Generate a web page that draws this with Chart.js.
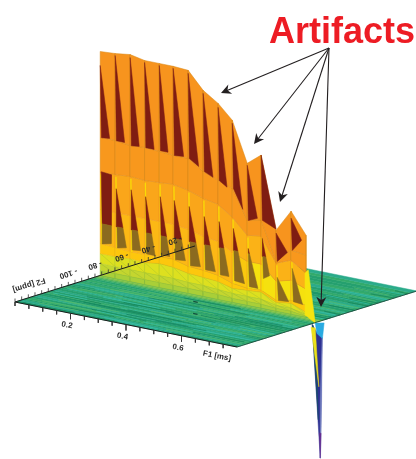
<!DOCTYPE html>
<html>
<head>
<meta charset="utf-8">
<style>
html, body { margin: 0; padding: 0; background: #fff; }
canvas { display: block; }
</style>
<script src="https://cdn.jsdelivr.net/npm/chart.js@4"></script>
</head>
<body>
<canvas id="surface" width="416" height="459"></canvas>
<script>
// wall columns, one per F1 increment
const f1Cols = [0, 0.054, 0.108, 0.16, 0.213, 0.263, 0.317, 0.371, 0.425, 0.476, 0.53, 0.58, 0.634, 0.688, 0.742];
// intensity along each contour of the wall
const zTop = [224, 225, 227, 224, 224, 224, 223, 206, 196, 182, 142, 153, 81, 103, 82];
const zBand1 = [138, 138, 136, 137, 136, 135, 135, 125, 119, 114, 85, 88, 50, 64, 62];
const zBand2 = [103, 104, 105, 104, 105, 106, 103, 98, 95, 85, 70, 72, 48, 54, 44];
const zBandMid = [66, 66, 66, 66, 66, 66, 64, 60, 58, 50, 44, 44, 30, 34, 28];
const zGoldTop = [32, 31, 30, 30, 31, 31, 27, 26, 24, 19, 17, 18, 11, 14, 12];
const zGoldLow = [22, 22, 23, 22, 24, 23, 20, 19, 18, 14, 15, 16, 9, 11, 5];
const zLimeA = [12, 12, 12, 12, 12, 12, 11, 11, 10, 9, 9, 9, 6, 6, 3];
const zLimeB = [5, 5, 5, 5, 5, 5, 5, 5, 5, 4, 4, 4, 3, 3, 1];
const zFoot = [0, 0, 0, 0, 0, 0, 0, 0, 0, 0, 0, 0, 0, 0, 0];

// dark folds, upper tier
const redApex = [210, 223, 224, 222, 222, 222, 220, 203, 192, 179, 140, 153, 78, 96];
const redLeft = [138, 138, 136, 137, 137, 135, 135, 125, 119, 114, 85, 88, 50, 64];
const redRight = [139, 138, 137, 137, 137, 136, 129, 121, 114, 95, 89, 82, 61, 76];
const redWidth = [0.63, 0.63, 0.63, 0.65, 0.63, 0.7, 0.7, 0.66, 0.63, 0.7, 0.73, 1, 0.75, 0.7];
// dark folds, lower tier
const foldApex = [104, 90, 92, 88, 91, 90, 87, 80, 78, 74, 57, 70, 34, 46];
const foldLeft = [32, 31, 32, 31, 33, 31, 28, 27, 25, 22, 19, 30, 11, 13];
const foldRight = [34, 33, 33, 31, 33, 32, 29, 27, 25, 21, 19, 34, 12, 12];
const foldWidth = [0.73, 0.75, 0.73, 0.72, 0.75, 0.82, 0.82, 0.82, 0.77, 0.82, 0.77, 0.56, 0.84, 0.77];

// negative peak at the end of the wall
const spikeCyanF1 = [0.775, 0.807, 0.801, 0.781];
const spikeCyanZ = [-4, -2, -18, -14];
const spikeNavyF1 = [0.764, 0.793, 0.8, 0.781];
const spikeNavyZ = [-6, -138, -17, -13];
const spikePaleF1 = [0.8, 0.798, 0.794, 0.793];
const spikePaleZ = [-17, -80, -138, -80];
const spikeYellowF1 = [0.76, 0.775, 0.788];
const spikeYellowZ = [-9, -9, -67];
const spikeTealF1 = [0.764, 0.768, 0.782, 0.786];
const spikeTealZ = [-6, -7, -68, -100];
const spikeTipF1 = [0.79, 0.796, 0.793];
const spikeTipZ = [-113, -113, -138];
const tailF1 = [0.738, 0.75, 0.775, 0.738];
const tailZ = [44, 48, -4, 2];

// floor
const floorRows = [-135, -132, -129, -127, -124, -121, -118, -116, -113, -110, -107, -105, -102, -99, -96, -94, -91, -88, -85, -83, -80, -78, -76, -74, -72.5, -71, -68, -65, -62, -58, -55, -52, -48, -45, -42, -38, -35, -31, -28, -24, -20, -16, -12, -8, -4, 0];
const floorTones = [1, 3, 0, 2, 0, 3, 0, 1, 2, 0, 3, 0, 0, 2, 1, 0, 3, 2, 0, 2, 0, 2, 4, 5, 6, 2, 0, 1, 3, 0, 2, 0, 0, 2, 3, 0, 1, 2, 0, 3, 2, 0, 0, 2, 3];
const streakF2 = [-133.5, -131, -130, -128, -126, -125, -123, -122, -120, -119, -117, -115, -114, -112, -111, -109, -108, -106, -104, -103.5, -101, -100, -98, -97, -95, -93.5, -92, -90, -89, -87, -86, -84, -82, -81, -79,
    -133, -129.5, -126.5, -124, -121, -118.5, -115.5, -113, -110.5, -107.5, -105, -102, -99.5, -96.5, -94, -91, -88.5,
    -69, -66, -63, -60, -57, -54, -51, -47, -44, -41, -37, -33, -30, -26, -22, -18, -14, -10, -6];
const streakFrom = [0.02, 0.3, 0.52, 0.1, 0.42, 0.05, 0.22, 0.58, 0.33, 0.08, 0.48, 0.15, 0.62, 0.27, 0.04, 0.5, 0.36, 0.12, 0.66, 0.24, 0.44, 0.02, 0.56, 0.18, 0.34, 0.64, 0.08, 0.46, 0.26, 0.6, 0.14, 0.38, 0.52, 0.22, 0.34,
    0.36, 0.06, 0.6, 0.24, 0.44, 0.1, 0.56, 0.3, 0.02, 0.68, 0.4, 0.16, 0.5, 0.05, 0.28, 0.58, 0.12,
    0.72, 0.64, 0.7, 0.6, 0.74, 0.66, 0.62, 0.71, 0.6, 0.68, 0.73, 0.63, 0.7, 0.66, 0.61, 0.72, 0.64, 0.69, 0.75];
const streakTo = [0.2, 0.5, 0.8, 0.32, 0.7, 0.26, 0.42, 0.79, 0.55, 0.24, 0.74, 0.4, 0.8, 0.5, 0.2, 0.78, 0.58, 0.3, 0.8, 0.42, 0.7, 0.22, 0.79, 0.4, 0.52, 0.8, 0.28, 0.66, 0.44, 0.8, 0.36, 0.6, 0.74, 0.44, 0.54,
    0.56, 0.2, 0.78, 0.4, 0.62, 0.3, 0.72, 0.5, 0.14, 0.8, 0.58, 0.36, 0.68, 0.2, 0.46, 0.75, 0.3,
    0.8, 0.8, 0.78, 0.79, 0.8, 0.8, 0.76, 0.8, 0.78, 0.8, 0.8, 0.79, 0.8, 0.78, 0.8, 0.8, 0.77, 0.8, 0.8];
const streakDrift = [1, -1, 0.5, 1, -0.5, 0.5, -1, 1, 0.5, -1, 1, -0.5, 0.5, 1, -1, 0.5, -0.5, 1, -1, 0.5, 1, -0.5, 0.5, -1, 1, 0.5, -1, 0.5, 1, -0.5, 1, -1, 0.5, -0.5, 1,
    -1, 0.5, 1, -1, 0.5, -0.5, 1, -1, 0.5, 1, -0.5, 0.5, -1, 1, -0.5, 0.5, 1,
    1, -1, 0.5, 1, -0.5, 1, -1, 0.5, 1, -1, 0.5, -0.5, 1, -1, 0.5, 1, -0.5, 1, -1];
const streakKind = [0, 1, 2, 0, 1, 2, 0, 1, 0, 2, 1, 0, 2, 1, 0, 1, 2, 0, 1, 0, 2, 1, 0, 1, 2, 0, 1, 2, 0, 1, 2, 0, 1, 2, 0,
    1, 2, 0, 1, 0, 2, 1, 0, 1, 2, 0, 1, 0, 2, 1, 0, 2,
    1, 0, 2, 1, 0, 1, 2, 0, 1, 2, 0, 1, 0, 2, 1, 0, 2, 1, 0];
const markF1 = [0.385, 0.469];
const markF2 = [-81.4, -99];

// axes
const f1Ticks = [0, 0.05, 0.1, 0.15, 0.2, 0.25, 0.3, 0.35, 0.4, 0.45, 0.5, 0.55, 0.6, 0.65, 0.7, 0.75];
const f1Labels = ["0.2", "0.4", "0.6"];
const f1LabelValues = [0.2, 0.4, 0.6];
const f2Ticks = [-135, -130, -125, -120, -115, -110, -105, -100, -95, -90, -85, -80, -75, -70, -65, -60, -55, -50, -45, -40, -35, -30, -25, -20, -15, -10, -5];
const f2Labels = ["- 100", "- 80", "- 60", "- 40", "- 20"];
const f2LabelValues = [-100, -80, -60, -40, -20];

// arrows from the word down to the artifacts
const arrowFrom = { x: 329, y: 48 };
const arrowTipX = [221, 254, 280, 321];
const arrowTipY = [93, 144, 202, 307];

const WALL_F2 = -71.1;
const F1_MAX = 0.8;
const F2_MIN = -135;
const BROWN_LEVEL = 52;

// oblique view of the box
function view(f1, f2, z) {
    return {
        x: 15 + f1 * 277.5 + (f2 - F2_MIN) * 1.333,
        y: 302 + f1 * 56.25 - (f2 - F2_MIN) * 0.415 - z,
    };
}

// position on the wall, c is a column number with a fraction
function wall(c, z) {
    let i = Math.min(Math.floor(c), f1Cols.length - 2);
    let f1 = f1Cols[i] + (c - i) * (f1Cols[i + 1] - f1Cols[i]);
    return view(f1, WALL_F2, z);
}

const datasets = [];

function shape(points, color, edge, edgeWidth) {
    datasets.push({
        data: points.concat([points[0]]),
        showLine: true,
        fill: "shape",
        backgroundColor: color,
        borderColor: edge || color,
        borderWidth: edgeWidth === undefined ? 0.5 : edgeWidth,
        pointRadius: 0,
        tension: 0,
    });
}

function line(points, color, width) {
    datasets.push({
        data: points,
        showLine: true,
        fill: false,
        borderColor: color,
        borderWidth: width,
        pointRadius: 0,
        tension: 0,
    });
}

function cell(i, zUp, zDown, color, edge) {
    shape([wall(i, zUp[i]), wall(i + 1, zUp[i + 1]), wall(i + 1, zDown[i + 1]), wall(i, zDown[i])], color, edge);
}

function spikePart(xs, zs, color) {
    shape(xs.map((f, i) => view(f, WALL_F2, zs[i])), color);
}

// floor
const floorColors = ["#25a06f", "#1d9769", "#33aa6b", "#2bab8a", "#4fb25c", "#6fbc4c", "#8cc63f"];
const streakColors = ["#12825a", "#38c0aa", "#55bb6c"];
for (let r = 0; r < floorTones.length; r++) {
    shape([
        view(0, floorRows[r], 0),
        view(F1_MAX, floorRows[r], 0),
        view(F1_MAX, floorRows[r + 1], 0),
        view(0, floorRows[r + 1], 0),
    ], floorColors[floorTones[r]]);
}
streakF2.forEach((f2, i) => {
    line([view(streakFrom[i], f2, 0), view(streakTo[i], f2 + streakDrift[i], 0)], streakColors[streakKind[i]], 0.7);
});
markF1.forEach((f1, i) => {
    line([view(f1, markF2[i], 0), view(f1 + 0.016, markF2[i], 0)], "#14503f", 1.2);
});

// wall from the foot up
const foldEdge = "#d98a1a";
for (let i = 0; i < f1Cols.length - 1; i++) {
    cell(i, zLimeB, zFoot, "#a9cf38", "#86b83e");
    cell(i, zLimeA, zLimeB, "#c4d62f", "#a9c735");
    cell(i, zGoldLow, zLimeA, "#dde01f", "#bfcf2a");
    line([wall(i, zGoldLow[i]), wall(i + 1, zLimeA[i + 1])], "#b5c92c", 0.6);
    line([wall(i, zLimeA[i]), wall(i + 1, zLimeB[i + 1])], "#a3bf2f", 0.6);
    cell(i, zGoldTop, zGoldLow, "#fdc70d", "#eeb812");
    cell(i, zBandMid, zGoldTop, i >= 10 ? "#f5e10f" : i === 9 ? "#fac80f" : "#fcb815", "#f0a81c");
    cell(i, zBand2, zBandMid, i >= 9 ? "#fbb217" : "#faa61a", "#f0981c");
    cell(i, zBand1, zBand2, "#f8981d", foldEdge);
    cell(i, zTop, zBand1, "#f7941e", foldEdge);

    // yellow streak on the column edge
    line([wall(i + 0.05, zBand2[i] - 2), wall(i + 0.12, zGoldTop[i])], "#f9dc05", 1.3);

    // upper fold
    shape([
        wall(i, redApex[i]),
        wall(i + redWidth[i], redRight[i]),
        wall(i + 0.08, redLeft[i]),
    ], "#7f1d12");

    // lower fold, dark above the contour and brown under it
    let apexL = { c: i + 0.07, z: foldApex[i] };
    let apexR = i === 0 ? { c: i + 0.75, z: foldApex[i] - 1 } : apexL;
    let baseL = { c: i + 0.15, z: foldLeft[i] };
    let baseR = { c: i + foldWidth[i], z: foldRight[i] };
    if (foldApex[i] <= BROWN_LEVEL) {
        shape([wall(apexL.c, apexL.z), wall(baseR.c, baseR.z), wall(baseL.c, baseL.z)], "#8b6a1f");
    } else {
        let tL = (apexL.z - BROWN_LEVEL) / (apexL.z - baseL.z);
        let tR = (apexR.z - BROWN_LEVEL) / (apexR.z - baseR.z);
        let midL = wall(apexL.c + tL * (baseL.c - apexL.c), BROWN_LEVEL);
        let midR = wall(apexR.c + tR * (baseR.c - apexR.c), BROWN_LEVEL);
        shape([wall(apexL.c, apexL.z), wall(apexR.c, apexR.z), midR, midL], "#7f1d12");
        shape([midL, midR, wall(baseR.c, baseR.z), wall(baseL.c, baseL.z)], "#8b6a1f");
    }
}
spikePart(tailF1, tailZ, "#f6e40f");

// peak going down
spikePart(spikeNavyF1, spikeNavyZ, "#2e3192");
spikePart(spikePaleF1, spikePaleZ, "#7480c0");
spikePart(spikeCyanF1, spikeCyanZ, "#29aae1");
spikePart(spikeTealF1, spikeTealZ, "#164f66");
spikePart(spikeYellowF1, spikeYellowZ, "#ece11b");
spikePart(spikeTipF1, spikeTipZ, "#662d91");

// axis lines and ticks
const AXIS_DARK = "#1a1a1a";
line([view(0, F2_MIN, 0), view(F1_MAX, F2_MIN, 0)], AXIS_DARK, 1);
line([view(0, F2_MIN, 0), view(0, 0, 0)], AXIS_DARK, 1);
line([view(F1_MAX, F2_MIN, 0), view(F1_MAX, 0, 0)], "#163f33", 0.8);
f1Ticks.forEach((v) => {
    let major = f1LabelValues.includes(v);
    line([view(v, F2_MIN, 0), view(v, F2_MIN, major ? -6 : -4)], "#333", 0.8);
});
f2Ticks.forEach((v) => {
    line([view(0, v, 0), view(0, v, 3.5)], "#333", 0.8);
});

// draw order: first dataset ends up on top
datasets.reverse();

function pixel(chart, p) {
    return { x: chart.scales.x.getPixelForValue(p.x), y: chart.scales.y.getPixelForValue(p.y) };
}

const annotate = {
    id: "annotate",
    afterDatasetsDraw(chart) {
        const ctx = chart.ctx;
        ctx.save();

        // axis text
        ctx.fillStyle = "#2b2b2b";
        ctx.textAlign = "center";
        ctx.textBaseline = "middle";
        ctx.font = "bold 8px 'Liberation Sans'";
        function label(text, p, dx, dy, angle) {
            let q = pixel(chart, p);
            ctx.save();
            ctx.translate(q.x + dx, q.y + dy);
            ctx.rotate((angle * Math.PI) / 180);
            ctx.fillText(text, 0, 0);
            ctx.restore();
        }
        f1Labels.forEach((t, i) => label(t, view(f1LabelValues[i], F2_MIN, 0), -3.5, 12, 11));
        label("F1 [ms]", view(F1_MAX, F2_MIN, 0), -20, 9, 11);
        f2Labels.forEach((t, i) => label(t, view(0, f2LabelValues[i], 0), 6.7, -14, 163));
        label("F2 [ppm]", view(0, F2_MIN, 0), 14, -17, 163);

        // arrows
        ctx.strokeStyle = "#231f20";
        ctx.fillStyle = "#231f20";
        ctx.lineWidth = 1.1;
        let a = pixel(chart, arrowFrom);
        arrowTipX.forEach((x, i) => {
            let b = pixel(chart, { x: x, y: arrowTipY[i] });
            let ang = Math.atan2(b.y - a.y, b.x - a.x);
            ctx.beginPath();
            ctx.moveTo(a.x, a.y);
            ctx.lineTo(b.x - 6 * Math.cos(ang), b.y - 6 * Math.sin(ang));
            ctx.stroke();
            ctx.save();
            ctx.translate(b.x, b.y);
            ctx.rotate(ang);
            ctx.beginPath();
            ctx.moveTo(0, 0);
            ctx.lineTo(-10, -5);
            ctx.lineTo(-7, 0);
            ctx.lineTo(-10, 5);
            ctx.closePath();
            ctx.fill();
            ctx.restore();
        });

        // callout word
        ctx.fillStyle = "#ed1c24";
        ctx.textAlign = "left";
        ctx.textBaseline = "alphabetic";
        ctx.font = "bold 36px 'Liberation Sans'";
        let w = pixel(chart, { x: 269, y: 43 });
        ctx.fillText("Artifacts", w.x, w.y);
        ctx.restore();
    },
};

const chart = new Chart(document.getElementById("surface").getContext("2d"), {
    type: "scatter",
    data: { datasets: datasets },
    options: {
        responsive: false,
        animation: false,
        layout: { padding: 0 },
        scales: {
            x: { type: "linear", min: 0, max: 416, display: false },
            y: { type: "linear", min: 0, max: 459, reverse: true, display: false },
        },
        plugins: {
            legend: { display: false },
            tooltip: { enabled: false },
            title: { display: false },
        },
    },
    plugins: [annotate],
});
</script>
</body>
</html>
